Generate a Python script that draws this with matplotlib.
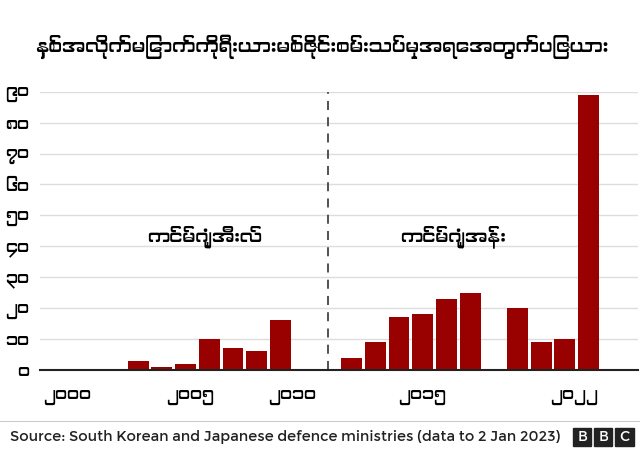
import matplotlib
matplotlib.use("Agg")
import matplotlib.pyplot as plt
from matplotlib.patches import Rectangle
from matplotlib import font_manager

fams = [f.name for f in font_manager.fontManager.ttflist]
mya = [n for n in set(fams) if 'Myanmar' in n or 'Padauk' in n]
plt.rcParams['font.family'] = mya + ['Noto Sans', 'DejaVu Sans']

years = [2003, 2004, 2005, 2006, 2007, 2008, 2009,
         2012, 2013, 2014, 2015, 2016, 2017, 2019, 2020, 2021, 2022]
counts = [3, 1, 2, 10, 7, 6, 16, 4, 9, 17, 18, 23, 25, 20, 9, 10, 89]
yticks = [0, 10, 20, 30, 40, 50, 60, 70, 80, 90]
ytick_labels = ['၀', '၁၀', '၂၀', '၃၀', '၄၀', '၅၀', '၆၀', '၇၀', '၈၀', '၉၀']
xtick_pos = [2000.0, 2005.2, 2009.5, 2015.0, 2021.4]
xtick_labels = ['၂၀၀၀', '၂၀၀၅', '၂၀၁၀', '၂၀၁၅', '၂၀၂၂']
title = 'နှစ်အလိုက်မြောက်ကိုရီးယားမစ်ဇိုင်းစမ်းသပ်မှုအရေအတွက်ပြဇယား'
era1 = 'ကင်မ်ဂျုံအီးလ်'
era2 = 'ကင်မ်ဂျုံအန်း'
source = 'Source: South Korean and Japanese defence ministries (data to 2 Jan 2023)'

fig = plt.figure(figsize=(6.4, 4.5), dpi=100)
ax = fig.add_axes([0.0625, 0.178, 0.935, 0.618])
ax.bar(years, counts, width=0.88, color='#990000')
ax.set_xlim(1998.86, 2024.1)
ax.set_ylim(0, 90)
ax.set_yticks(yticks)
ax.set_yticklabels(ytick_labels, fontsize=12)
ax.set_xticks(xtick_pos)
ax.set_xticklabels(xtick_labels, fontsize=12)
ax.tick_params(axis='x', length=0, pad=14)
ax.tick_params(axis='y', length=0, pad=8)
ax.grid(axis='y', color='#dddddd', linewidth=1)
ax.set_axisbelow(True)
for s in ['top', 'right', 'left']:
    ax.spines[s].set_visible(False)
ax.spines['bottom'].set_linewidth(1.5)
ax.spines['bottom'].set_color('#222222')
ax.axvline(2011, color='#444444', linestyle=(0, (5, 4)), linewidth=1.3)
ax.text(2005.8, 43, era1, fontsize=13, ha='center', va='center')
ax.text(2016.3, 43, era2, fontsize=13, ha='center', va='center')

fig.text(0.055, 0.895, title, fontsize=13.5, ha='left', va='center')
fig.add_artist(plt.Line2D([0, 1], [0.065, 0.065], color='#cccccc', lw=0.8, transform=fig.transFigure))
fig.text(0.015, 0.028, source, fontsize=10.5, ha='left', va='center', color='#222222')
for i, ch in enumerate('BBC'):
    x0 = 0.895 + i * 0.033
    fig.add_artist(Rectangle((x0, 0.008), 0.029, 0.041, color='#222222', transform=fig.transFigure))
    fig.text(x0 + 0.0145, 0.029, ch, fontsize=10, color='white', weight='bold', ha='center', va='center')

fig.savefig('out.png', dpi=100)
